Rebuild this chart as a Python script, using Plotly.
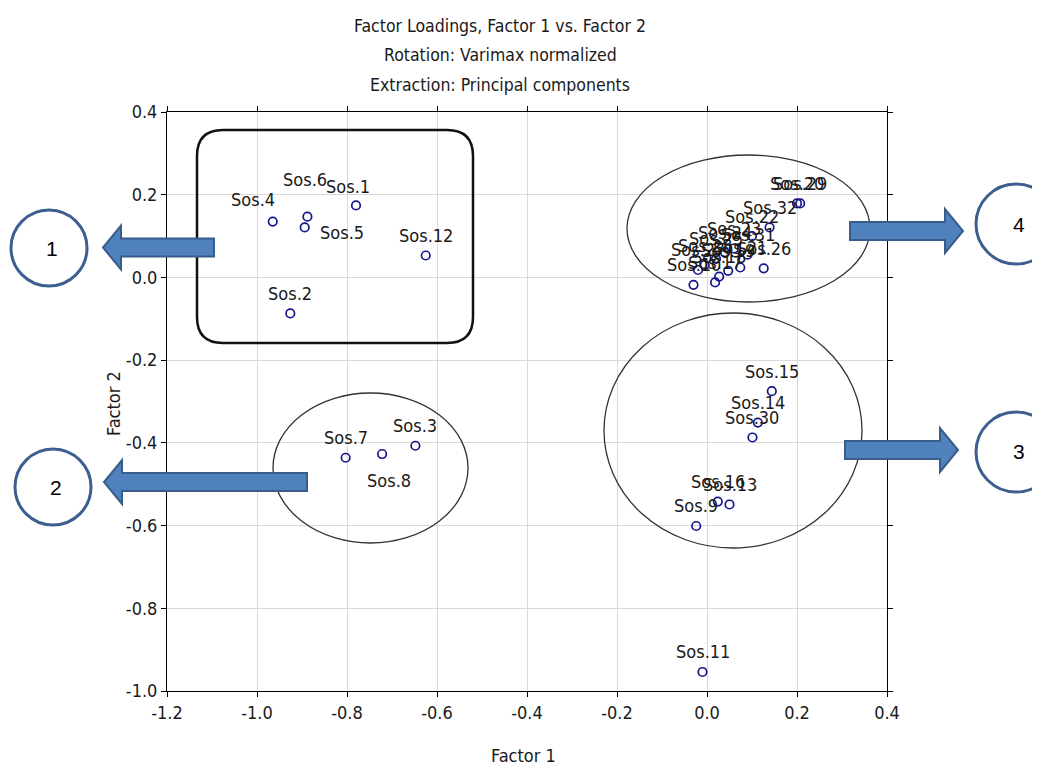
import plotly.graph_objects as go

# ---------------- data ----------------
names = ["Sos.1", "Sos.2", "Sos.4", "Sos.5", "Sos.6", "Sos.12",
         "Sos.3", "Sos.7", "Sos.8",
         "Sos.9", "Sos.11", "Sos.13", "Sos.14", "Sos.15", "Sos.16", "Sos.30",
         "Sos.10", "Sos.17", "Sos.18", "Sos.19", "Sos.20", "Sos.21", "Sos.22",
         "Sos.23", "Sos.24", "Sos.25", "Sos.26", "Sos.27", "Sos.28", "Sos.29",
         "Sos.31", "Sos.32"]
factor1 = [-0.780, -0.926, -0.965, -0.894, -0.888, -0.625,
           -0.648, -0.803, -0.722,
           -0.024, -0.010, 0.050, 0.113, 0.144, 0.024, 0.101,
           -0.030, 0.018, 0.027, 0.047, 0.200, 0.074, 0.100,
           0.060, 0.040, 0.020, 0.126, -0.020, -0.005, 0.207,
           0.090, 0.139]
factor2 = [0.174, -0.087, 0.135, 0.121, 0.147, 0.053,
           -0.407, -0.436, -0.427,
           -0.601, -0.954, -0.549, -0.351, -0.275, -0.542, -0.387,
           -0.018, -0.012, 0.002, 0.016, 0.179, 0.024, 0.100,
           0.070, 0.060, 0.045, 0.022, 0.018, 0.030, 0.179,
           0.055, 0.121]

x_ticks = [-1.2, -1.0, -0.8, -0.6, -0.4, -0.2, 0.0, 0.2, 0.4]
y_ticks = [0.4, 0.2, 0.0, -0.2, -0.4, -0.6, -0.8, -1.0]
title_lines = ["Factor Loadings, Factor 1 vs. Factor 2",
               "Rotation: Varimax normalized",
               "Extraction: Principal components"]
group_numbers = ["1", "2", "3", "4"]

# ---------------- layout geometry (reference pixels) ----------------
W, H = 1040, 765
OFF = 8  # default page body margin
L, R, T, B = 167, 887, 112, 691
PW, PH = R - L, B - T

def px(xp):
    return (xp - L) / PW

def py(yp):
    return (B - yp) / PH

# label offsets in pixels (dx, dy up), default centred 20 px above point
label_offsets = {"Sos.4": (-20, 22), "Sos.6": (-2, 37), "Sos.1": (-8, 19),
                 "Sos.5": (37, -5), "Sos.8": (7, -26)}

FONT = "DejaVu Sans Condensed, Liberation Sans Narrow, Arial, sans-serif"
TXT = "#1a1a1a"

fig = go.Figure()
fig.add_trace(go.Scatter(
    x=factor1, y=factor2, mode="markers",
    marker=dict(symbol="circle-open", size=8.5, color="#16168c",
                line=dict(width=1.7, color="#16168c")),
    hovertext=names, showlegend=False))

ann = []
for n, xv, yv in zip(names, factor1, factor2):
    dx, dy = label_offsets.get(n, (0, 20))
    ann.append(dict(x=xv, y=yv, xref="x", yref="y", text=n, showarrow=False,
                    xanchor="center", yanchor="middle", xshift=dx, yshift=dy,
                    font=dict(family=FONT, size=18, color=TXT)))

for i, line in enumerate(title_lines):
    ann.append(dict(x=px(500), y=py([26, 55, 85][i]), xref="paper", yref="paper",
                    text=line, showarrow=False, xanchor="center", yanchor="middle",
                    font=dict(family=FONT, size=17.5, color=TXT)))

ann.append(dict(x=px(523), y=py(755), xref="paper", yref="paper", text="Factor 1",
                showarrow=False, xanchor="center", yanchor="middle",
                font=dict(family=FONT, size=18, color=TXT)))
ann.append(dict(x=px(113), y=py(404), xref="paper", yref="paper", text="Factor 2",
                showarrow=False, textangle=-90, xanchor="center", yanchor="middle",
                font=dict(family=FONT, size=18, color=TXT)))

shapes = []
# rounded rectangle (group 1)
x0, x1, y0, y1, r = 197, 473, 130, 343, 26
def P(a, b):
    return f"{px(a):.5f},{py(b):.5f}"
path = (f"M {P(x0 + r, y0)} L {P(x1 - r, y0)} Q {P(x1, y0)} {P(x1, y0 + r)} "
        f"L {P(x1, y1 - r)} Q {P(x1, y1)} {P(x1 - r, y1)} "
        f"L {P(x0 + r, y1)} Q {P(x0, y1)} {P(x0, y1 - r)} "
        f"L {P(x0, y0 + r)} Q {P(x0, y0)} {P(x0 + r, y0)} Z")
shapes.append(dict(type="path", path=path, xref="paper", yref="paper",
                   line=dict(color="#111111", width=2.5)))

# ellipses
for cx, cy, rx, ry in [(370.5, 468, 97.5, 75), (733, 430.5, 129, 117.5),
                       (748.5, 228.5, 121.5, 73.5)]:
    shapes.append(dict(type="circle", xref="paper", yref="paper",
                       x0=px(cx - rx), x1=px(cx + rx), y0=py(cy + ry), y1=py(cy - ry),
                       line=dict(color="#333333", width=1.3)))

# block arrows
def arrow(tail, tip, yc, shaft_h, head_h, head_len):
    d = 1 if tip > tail else -1
    base = tip - d * head_len
    pts = [(tail, yc - shaft_h), (base, yc - shaft_h), (base, yc - head_h),
           (tip, yc), (base, yc + head_h), (base, yc + shaft_h), (tail, yc + shaft_h)]
    return "M " + " L ".join(P(a, b) for a, b in pts) + " Z"

for tail, tip, yc in [(214, 103, 247.5), (307, 104, 482), (850, 963, 231), (845, 958, 450)]:
    shapes.append(dict(type="path", path=arrow(tail, tip, yc, 9, 22, 18),
                       xref="paper", yref="paper", fillcolor="#4f81bd",
                       line=dict(color="#385d8a", width=2)))

# numbered circles
circles = [(49, 248, 38), (53, 487, 38), (1016, 452, 40), (1016, 224, 40)]
for (cx, cy, rr), num in zip(circles, ["1", "2", "3", "4"]):
    shapes.append(dict(type="circle", xref="paper", yref="paper",
                       x0=px(cx - rr), x1=px(cx + rr), y0=py(cy + rr), y1=py(cy - rr),
                       line=dict(color="#3c5f8f", width=3), fillcolor="rgba(255,255,255,0)"))
    ann.append(dict(x=px(cx + 3), y=py(cy), xref="paper", yref="paper", text=num,
                    showarrow=False, xanchor="center", yanchor="middle",
                    font=dict(family="Liberation Sans, Arial, sans-serif",
                              size=21, color="#000000")))

axis_common = dict(showline=True, linecolor="#000000", linewidth=1, mirror="ticks",
                   ticks="outside", ticklen=5, tickcolor="#000000",
                   showgrid=True, gridcolor="#d9d9d9", gridwidth=1, zeroline=False,
                   tickfont=dict(family=FONT, size=18, color=TXT))

fig.update_layout(
    width=W - OFF, height=H - OFF,
    margin=dict(l=L - OFF, r=W - R, t=T - OFF, b=H - B, pad=0),
    paper_bgcolor="white", plot_bgcolor="white",
    xaxis=dict(range=[-1.2, 0.4], tickvals=x_ticks,
               ticktext=[f"{v:.1f}" for v in x_ticks], **axis_common),
    yaxis=dict(range=[-1.0, 0.4], tickvals=y_ticks,
               ticktext=[f"{v:.1f}" for v in y_ticks], **axis_common),
    annotations=ann, shapes=shapes,
)

fig.write_html("out.html")
